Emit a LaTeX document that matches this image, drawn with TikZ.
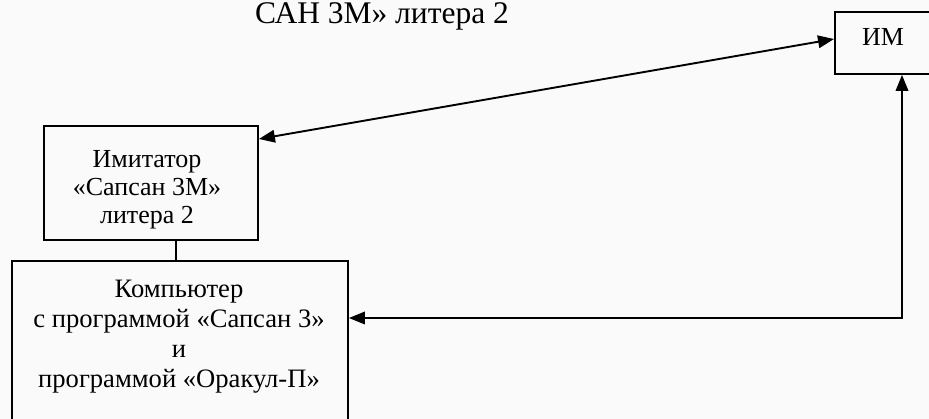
\documentclass[tikz,border=0pt]{standalone}
\usepackage{fontspec}
\setmainfont{Liberation Serif}
\usetikzlibrary{arrows.meta}
\definecolor{bgcol}{RGB}{250,250,250}
\begin{document}
\begin{tikzpicture}[x=1pt,y=-1pt,
  box/.style={draw,line width=1.9pt,rectangle,inner sep=0pt,anchor=north west},
  lbl/.style={inner sep=0pt,align=center},
  conn/.style={line width=1.9pt,{Triangle[length=16pt,width=12.5pt]}-{Triangle[length=16pt,width=12.5pt]}},
  plain/.style={line width=1.9pt}]
\useasboundingbox (0,0) rectangle (929,419);
\fill[bgcol] (0,0) rectangle (929,419);
\clip (0,0) rectangle (929,419);

% boxes
\node[box,minimum width=97pt,minimum height=62pt] (im) at (834,11) {};
\node[box,minimum width=214pt,minimum height=114pt] (imit) at (43,125) {};
\node[box,minimum width=336pt,minimum height=175pt] (comp) at (11,260) {};

% texts
\node[lbl,anchor=base,font=\fontsize{31.5}{34}\selectfont] (toptext) at (382,24) {САН 3М» литера 2};
\node[lbl,anchor=base,font=\fontsize{26}{28.3}\selectfont] (imtext) at (883,46) {ИМ};
\node[lbl,anchor=north,font=\fontsize{26}{28.3}\selectfont] (imittext) at (147,149.8) {Имитатор\\«Сапсан 3М»\\литера 2};
\node[lbl,anchor=north,font=\fontsize{26.6}{30}\selectfont] (comptext) at (179,279.4) {Компьютер\\с программой «Сапсан 3»\\и\\программой «Оракул-П»};

% connectors
\coordinate (pa) at (0,139);
\coordinate (pb) at (0,39);
\coordinate (corner) at (902,318);
\coordinate (vx) at (176,0);
\draw[conn] (imit.east |- pa) -- (im.west |- pb);
\draw[conn] (comp.east |- corner) -- (corner) -- (im.south -| corner);
\draw[plain] (imit.south -| vx) -- (comp.north -| vx);
\end{tikzpicture}
\end{document}
